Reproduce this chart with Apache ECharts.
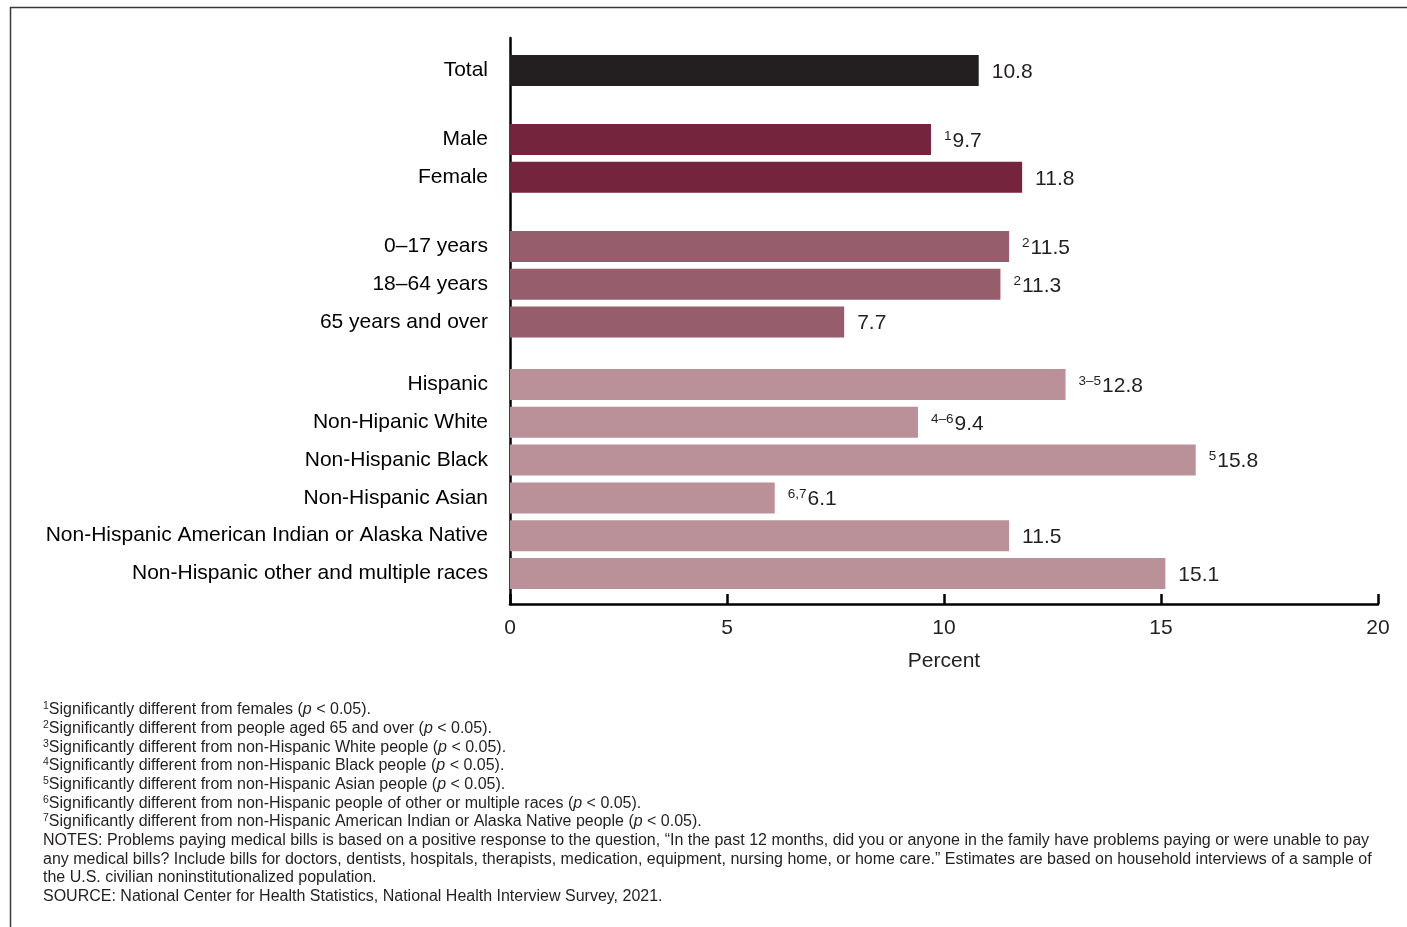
<!DOCTYPE html>
<html>
<head>
<meta charset="utf-8">
<script src="https://cdn.jsdelivr.net/npm/echarts@6/dist/echarts.min.js"></script>
<style>
  html, body { margin: 0; padding: 0; background: #fff; }
  #chart { width: 1407px; height: 927px; }
</style>
</head>
<body>
<div id="chart"></div>
<script>
// ---- data ----
const categories = [
  'Total',
  'Male', 'Female',
  '0–17 years', '18–64 years', '65 years and over',
  'Hispanic', 'Non-Hipanic White', 'Non-Hispanic Black', 'Non-Hispanic Asian',
  'Non-Hispanic American Indian or Alaska Native', 'Non-Hispanic other and multiple races'
];
const values = [10.8, 9.7, 11.8, 11.5, 11.3, 7.7, 12.8, 9.4, 15.8, 6.1, 11.5, 15.1];
const sigNotes = ['', '1', '', '2', '2', '', '3–5', '4–6', '5', '6,7', '', ''];
const groupSizes = [1, 2, 3, 6];
const groupColors = ['#231f20', '#74253d', '#965d6c', '#bb9199'];
const xTicks = [0, 5, 10, 15, 20];
const axisName = 'Percent';
const footnotes = [
  ['1', 'Significantly different from females (', 'p', ' < 0.05).'],
  ['2', 'Significantly different from people aged 65 and over (', 'p', ' < 0.05).'],
  ['3', 'Significantly different from non-Hispanic White people (', 'p', ' < 0.05).'],
  ['4', 'Significantly different from non-Hispanic Black people (', 'p', ' < 0.05).'],
  ['5', 'Significantly different from non-Hispanic Asian people (', 'p', ' < 0.05).'],
  ['6', 'Significantly different from non-Hispanic people of other or multiple races (', 'p', ' < 0.05).'],
  ['7', 'Significantly different from non-Hispanic American Indian or Alaska Native people (', 'p', ' < 0.05).']
];
const notesLines = [
  'NOTES: Problems paying medical bills is based on a positive response to the question, “In the past 12 months, did you or anyone in the family have problems paying or were unable to pay',
  'any medical bills? Include bills for doctors, dentists, hospitals, therapists, medication, equipment, nursing home, or home care.” Estimates are based on household interviews of a sample of',
  'the U.S. civilian noninstitutionalized population.',
  'SOURCE: National Center for Health Statistics, National Health Interview Survey, 2021.'
];

// ---- layout ----
const FONT = '"Liberation Sans", Arial, sans-serif';
const PLOT_LEFT = 510, PLOT_RIGHT = 29;
const FRAME_TOP = 38, FRAME_BOTTOM_Y = 604;
const SLOT = 37.8;
const groupFirstCenters = [70.5, 139.5, 246.5, 384.5];
const LABEL_SIZE = 21;

const chart = echarts.init(document.getElementById('chart'));

const grids = [], xAxes = [], yAxes = [], series = [];

// frame grid (visible axes)
grids.push({ left: PLOT_LEFT, right: PLOT_RIGHT, top: FRAME_TOP, height: FRAME_BOTTOM_Y - FRAME_TOP });
xAxes.push({
  gridIndex: 0, type: 'value', min: xTicks[0], max: xTicks[xTicks.length - 1],
  interval: xTicks[1] - xTicks[0],
  name: axisName, nameLocation: 'middle', nameGap: 47,
  nameTextStyle: { fontSize: LABEL_SIZE, fontFamily: FONT, color: '#231f20' },
  axisLine: { show: true, lineStyle: { color: '#000', width: 2.5 } },
  axisTick: { show: true, inside: true, length: 10, lineStyle: { color: '#000', width: 2.5 } },
  axisLabel: { fontSize: LABEL_SIZE, fontFamily: FONT, color: '#231f20', margin: 14 },
  splitLine: { show: false }
});
yAxes.push({
  gridIndex: 0, type: 'value', min: 0, max: 1,
  axisLine: { show: true, lineStyle: { color: '#000', width: 2.5 } },
  axisTick: { show: false }, axisLabel: { show: false }, splitLine: { show: false }
});

let start = 0;
groupSizes.forEach((n, g) => {
  const gi = g + 1;
  const cats = categories.slice(start, start + n);
  const vals = values.slice(start, start + n);
  const notes = sigNotes.slice(start, start + n);
  grids.push({
    left: PLOT_LEFT, right: PLOT_RIGHT,
    top: groupFirstCenters[g] - SLOT / 2, height: SLOT * n
  });
  xAxes.push({ gridIndex: gi, type: 'value', min: xTicks[0], max: xTicks[xTicks.length - 1], show: false });
  yAxes.push({
    gridIndex: gi, type: 'category', data: cats, inverse: true,
    axisLine: { show: false }, axisTick: { show: false }, splitLine: { show: false },
    axisLabel: { fontSize: LABEL_SIZE, fontFamily: FONT, color: '#000', margin: 22 }
  });
  series.push({
    type: 'bar', xAxisIndex: gi, yAxisIndex: gi,
    data: vals,
    barWidth: 31,
    itemStyle: { color: groupColors[g] },
    label: {
      show: true, position: 'right', distance: 13, offset: [0, 1.5],
      formatter: p => {
        const note = notes[p.dataIndex];
        return (note ? '{sup|' + note + '}' : '') + '{val|' + p.value.toFixed(1) + '}';
      },
      rich: {
        val: { fontSize: LABEL_SIZE, fontFamily: FONT, color: '#231f20', lineHeight: 24 },
        sup: { fontSize: 13.5, fontFamily: FONT, color: '#231f20', lineHeight: 24, padding: [0, 1, 10, 0] }
      }
    },
    silent: true, animation: false
  });
  start += n;
});

// footnotes & border
const graphics = [
  { type: 'line', shape: { x1: 10, y1: 7.5, x2: 1407, y2: 7.5 }, style: { stroke: '#3a3a3a', lineWidth: 1.5 } },
  { type: 'line', shape: { x1: 10.5, y1: 7, x2: 10.5, y2: 927 }, style: { stroke: '#3a3a3a', lineWidth: 1.5 } }
];
const FN_X = 43, FN_Y0 = 710, FN_LH = 18.65, FN_SIZE = 16;
const fnRich = {
  s: { fontSize: 10.5, fontFamily: FONT, fill: '#231f20', padding: [0, 0, 7, 0] },
  t: { fontSize: FN_SIZE, fontFamily: FONT, fill: '#231f20' },
  i: { fontSize: FN_SIZE, fontFamily: FONT, fill: '#231f20', fontStyle: 'italic' }
};
footnotes.forEach((f, k) => {
  graphics.push({
    type: 'text', x: FN_X, y: FN_Y0 + k * FN_LH,
    style: {
      text: '{s|' + f[0] + '}{t|' + f[1] + '}{i|' + f[2] + '}{t|' + f[3] + '}',
      rich: fnRich, verticalAlign: 'middle', fontSize: FN_SIZE, fontFamily: FONT, fill: '#231f20'
    }
  });
});
notesLines.forEach((line, k) => {
  graphics.push({
    type: 'text', x: FN_X, y: FN_Y0 + (footnotes.length + k) * FN_LH,
    style: { text: line, fontSize: FN_SIZE, fontFamily: FONT, fill: '#231f20', verticalAlign: 'middle' }
  });
});

chart.setOption({
  animation: false,
  backgroundColor: '#fff',
  grid: grids,
  xAxis: xAxes,
  yAxis: yAxes,
  series: series,
  graphic: graphics
});
</script>
</body>
</html>
